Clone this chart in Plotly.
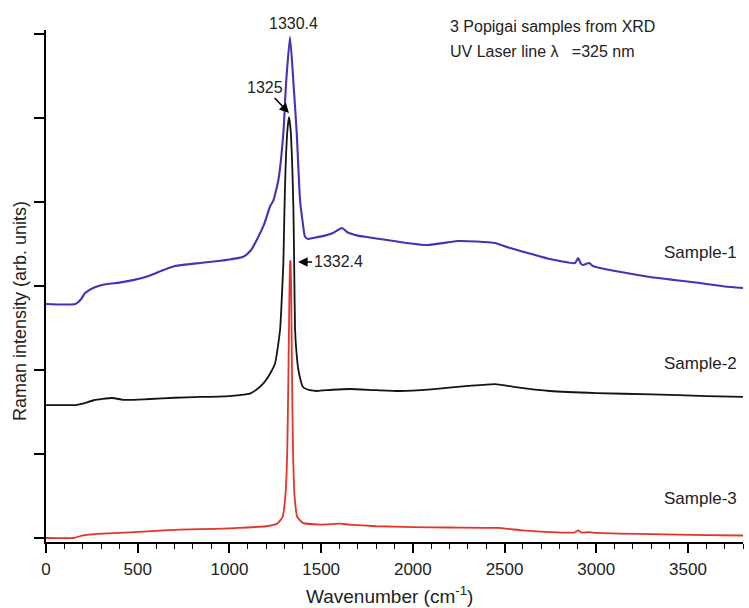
import plotly.graph_objects as go

# ---------------- data ----------------
s1_x = [0, 160, 190, 213, 260, 333, 400, 474, 560, 640, 703, 840, 950, 1076, 1115, 1149, 1190,
        1221, 1240, 1267, 1294, 1309, 1330.4, 1349, 1367, 1385, 1400, 1412, 1430, 1456, 1520,
        1565, 1614, 1641, 1700, 1750, 1850, 1930, 2077, 2203, 2246, 2350, 2448, 2530, 2650,
        2748, 2884, 2901, 2915, 2928, 2961, 2980, 3021, 3150, 3293, 3450, 3566, 3700, 3800]
s1_y = [2.786, 2.786, 2.84, 2.917, 2.98, 3.024, 3.04, 3.07, 3.12, 3.19, 3.238, 3.274, 3.30, 3.349,
        3.42, 3.548, 3.74, 3.944, 4.02, 4.262, 4.82, 5.42, 5.964, 5.42, 4.82, 4.024, 3.75, 3.587,
        3.56, 3.571, 3.60, 3.631, 3.69, 3.643, 3.60, 3.583, 3.55, 3.524, 3.488, 3.524, 3.536,
        3.53, 3.512, 3.452, 3.38, 3.321, 3.274, 3.333, 3.27, 3.25, 3.274, 3.24, 3.214, 3.16,
        3.107, 3.065, 3.036, 2.995, 2.976]

s2_x = [0, 160, 200, 260, 360, 420, 500, 567, 700, 840, 1000, 1058, 1112, 1150, 1185, 1220, 1249,
        1276, 1285, 1294, 1300, 1306, 1316, 1325, 1334, 1343, 1349, 1353, 1358, 1366, 1376, 1401,
        1440, 1478, 1560, 1658, 1800, 1930, 2100, 2300, 2448, 2550, 2748, 3000, 3300, 3600, 3800]
s2_y = [1.583, 1.583, 1.60, 1.64, 1.667, 1.645, 1.648, 1.655, 1.67, 1.679, 1.69, 1.702, 1.72, 1.77,
        1.84, 1.95, 2.08, 2.476, 2.83, 3.27, 3.9, 4.4, 4.85, 5.012, 4.85, 4.4, 3.9, 3.27, 2.476,
        2.2, 2.0, 1.798, 1.76, 1.75, 1.765, 1.774, 1.76, 1.75, 1.77, 1.81, 1.833, 1.80, 1.75,
        1.725, 1.71, 1.69, 1.679]

s3_x = [0, 150, 202, 278, 458, 600, 731, 840, 1000, 1100, 1200, 1260, 1290, 1305, 1315, 1322,
        1327, 1331, 1332.4, 1333.5, 1337, 1341, 1347, 1355, 1370, 1400, 1500, 1603, 1650, 1800,
        2000, 2200, 2463, 2600, 2750, 2880, 2901, 2920, 2960, 3000, 3300, 3600, 3800]
s3_y = [0.0, 0.0, 0.03, 0.048, 0.068, 0.085, 0.10, 0.105, 0.115, 0.125, 0.14, 0.17, 0.25, 0.5,
        1.0, 2.0, 2.9, 3.29, 3.298, 3.29, 2.9, 2.0, 1.0, 0.5, 0.25, 0.18, 0.16, 0.17, 0.16, 0.14,
        0.13, 0.125, 0.12, 0.09, 0.07, 0.065, 0.09, 0.065, 0.07, 0.06, 0.045, 0.035, 0.03]

series_names = ["Sample-1", "Sample-2", "Sample-3"]
x_tick_vals = [0, 500, 1000, 1500, 2000, 2500, 3000, 3500]
x_tick_text = ["0", "500", "1000", "1500", "2000", "2500", "3000", "3500"]
y_tick_vals = [0, 1, 2, 3, 4, 5, 6]
peak_labels = ["1330.4", "1325", "1332.4"]

FONT = "Liberation Sans, Arial, sans-serif"
BLUE = "#4433B4"
BLACK = "#141414"
RED = "#E5332A"
TXT = "#222222"

fig = go.Figure()
fig.add_trace(go.Scatter(x=s1_x, y=s1_y, mode="lines", name=series_names[0],
                         line=dict(color=BLUE, width=2.1, shape="spline", smoothing=0.5)))
fig.add_trace(go.Scatter(x=s2_x, y=s2_y, mode="lines", name=series_names[1],
                         line=dict(color=BLACK, width=1.8, shape="spline", smoothing=0.5)))
fig.add_trace(go.Scatter(x=s3_x, y=s3_y, mode="lines", name=series_names[2],
                         line=dict(color=RED, width=1.8, shape="spline", smoothing=0.4)))

fig.update_layout(
    width=749, height=608,
    margin=dict(l=46, r=6, t=30, b=66),
    plot_bgcolor="white", paper_bgcolor="white",
    showlegend=False,
    font=dict(family=FONT, color=TXT),
    xaxis=dict(range=[0, 3800], tickvals=x_tick_vals, ticktext=x_tick_text,
               ticks="outside", ticklen=9, tickwidth=1.5, tickcolor="black",
               showline=True, linecolor="black", linewidth=1.5, ticklabelstandoff=2,
               showgrid=False, zeroline=False, tickfont=dict(size=17, family=FONT, color=TXT),
               minor=dict(dtick=100, tick0=0, ticks="outside", ticklen=5, tickwidth=1.3,
                          tickcolor="black", showgrid=False)),
    yaxis=dict(range=[-0.0476, 6.048], tickvals=y_tick_vals, showticklabels=False,
               ticks="outside", ticklen=10, tickwidth=1.5, tickcolor="black",
               showline=True, linecolor="black", linewidth=1.5,
               showgrid=False, zeroline=False),
)

ann = []
# axis titles
ann.append(dict(xref="paper", yref="paper", x=0.4935, y=-0.1035, showarrow=False,
                text="Wavenumber (cm<sup>-1</sup>)", font=dict(size=19, family=FONT, color=TXT),
                xanchor="center", yanchor="middle"))
ann.append(dict(xref="paper", yref="paper", x=-0.0373, y=0.451, showarrow=False,
                text="Raman intensity (arb. units)", textangle=-90,
                font=dict(size=18, family=FONT, color=TXT), xanchor="center", yanchor="middle"))
# top-right note
ann.append(dict(xref="paper", yref="paper", x=(448 - 46) / 697, y=(542 - 26) / 512, showarrow=False,
                text="3 Popigai samples from XRD", font=dict(size=16, family=FONT, color=TXT),
                xanchor="left", yanchor="middle"))
ann.append(dict(xref="paper", yref="paper", x=(448 - 46) / 697, y=(542 - 51) / 512, showarrow=False,
                text="UV Laser line \u03bb\u00a0\u00a0 =325 nm", font=dict(size=16, family=FONT, color=TXT),
                xanchor="left", yanchor="middle"))
# sample labels
for name, yv in zip(series_names, [3.405, 2.083, 0.476]):
    ann.append(dict(xref="paper", yref="y", x=0.9943, y=yv, showarrow=False, text=name,
                    font=dict(size=17, family=FONT, color=TXT), xanchor="right", yanchor="middle"))
# peak labels
ann.append(dict(x=1330.4, y=5.964, xref="x", yref="y", text=peak_labels[0], showarrow=False,
                yshift=14, xshift=3, font=dict(size=16, family=FONT, color=TXT)))
ann.append(dict(x=1325, y=5.06, xref="x", yref="y", text=peak_labels[1], showarrow=True,
                ax=-24, ay=-25, arrowhead=2, arrowsize=1.2, arrowwidth=1.6, arrowcolor="black",
                standoff=0, font=dict(size=16, family=FONT, color=TXT)))
ann.append(dict(x=1374, y=3.286, xref="x", yref="y", text=peak_labels[2], showarrow=True,
                ax=40, ay=0, arrowhead=2, arrowsize=1.2, arrowwidth=1.6, arrowcolor="black",
                standoff=0, font=dict(size=16, family=FONT, color=TXT)))
fig.update_layout(annotations=ann)

fig.write_html("out.html")
